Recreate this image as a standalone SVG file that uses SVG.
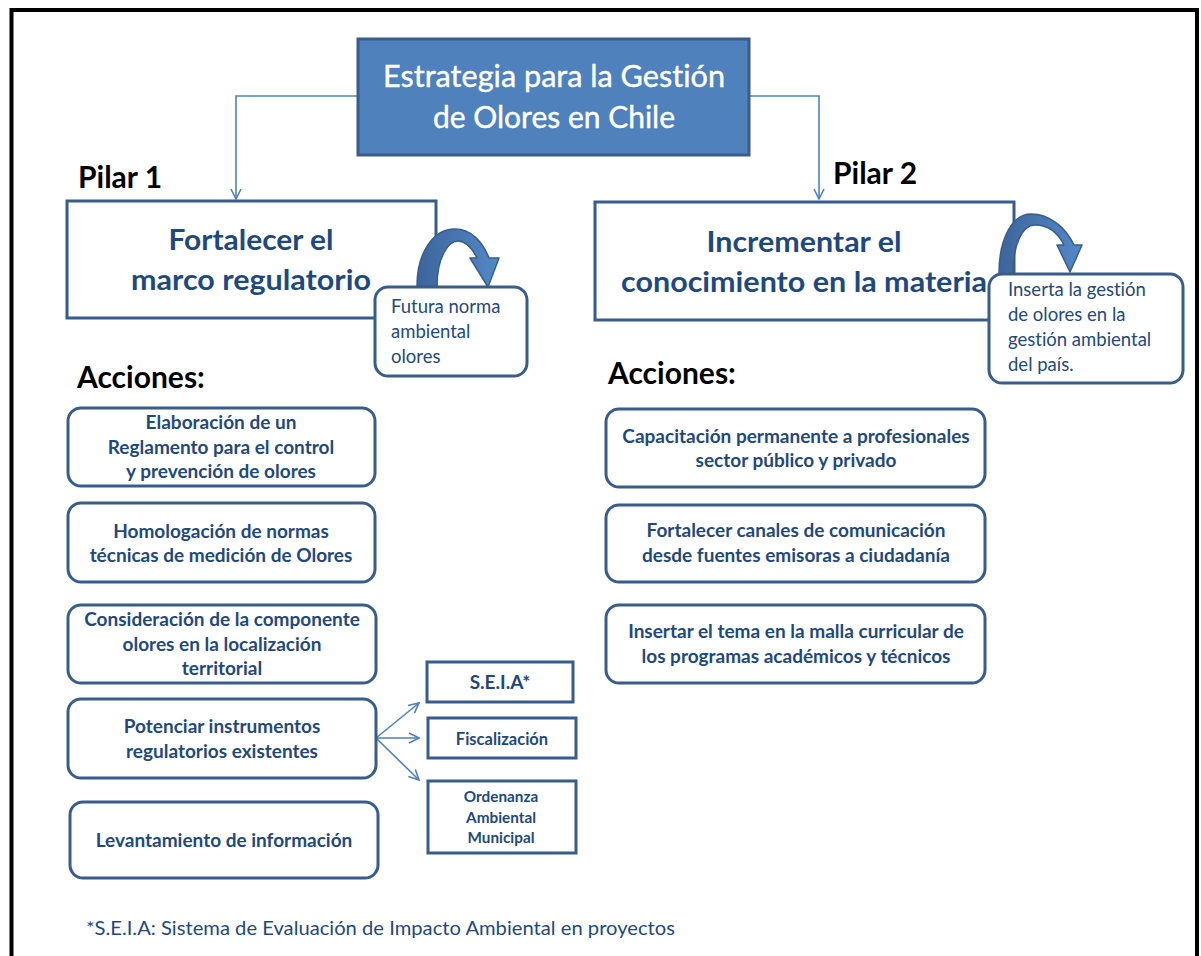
<svg xmlns="http://www.w3.org/2000/svg" width="1201" height="956" viewBox="0 0 1201 956">
<style>
.frame{fill:none;stroke:#000;stroke-width:4}
.box{fill:#fff;stroke:#385D8A;stroke-width:3}
.title{fill:#4F81BD;stroke:#385D8A;stroke-width:3}
.conn{fill:none;stroke:#4F81BD;stroke-width:1.6}
.curl{fill:url(#curlGrad);stroke:#385D8A;stroke-width:1.5;stroke-linejoin:round}
text{font-family:Lato,"Open Sans","Liberation Sans",sans-serif;font-variant-ligatures:none;font-feature-settings:"liga" 0}
.tt{fill:#fff;font-size:30px;text-anchor:middle;stroke:#fff;stroke-width:0.4}
.pil{fill:#000;font-size:30px;font-weight:bold}
.main{fill:#1F497D;font-size:29px;font-weight:bold;text-anchor:middle}
.act{fill:#1F497D;font-size:19px;font-weight:bold;text-anchor:middle}
.sm{fill:#1F497D;font-weight:bold;text-anchor:middle}
.call{fill:#1F497D;font-size:18.5px}
.foot{fill:#1F497D;font-size:20px}
</style>
<defs>
<linearGradient id="curlGrad" x1="0" y1="0" x2="1" y2="0">
<stop offset="0" stop-color="#3C659B"/>
<stop offset="1" stop-color="#5388C6"/>
</linearGradient>
<marker id="open" viewBox="0 0 12 12" refX="11" refY="6" markerWidth="12" markerHeight="12" markerUnits="userSpaceOnUse" orient="auto">
<path d="M1,1 L11,6 L1,11" fill="none" stroke="#4F81BD" stroke-width="1.6"/>
</marker>
</defs>
<rect class="frame" x="11.5" y="10" width="1185.5" height="960"/>

<g id="connectors">
<path class="conn" d="M357,96 H236 V199" marker-end="url(#open)"/>
<path class="conn" d="M750,96 H819 V199" marker-end="url(#open)"/>
<path class="conn" d="M376,738 L419,703" marker-end="url(#open)"/>
<path class="conn" d="M376,738 L419,738" marker-end="url(#open)"/>
<path class="conn" d="M376,738 L419,780" marker-end="url(#open)"/>
</g>

<g id="title">
<rect class="title" x="358" y="39" width="391" height="116"/>
<text class="tt" x="554" y="87" textLength="342" lengthAdjust="spacingAndGlyphs">Estrategia para la Gestión</text>
<text class="tt" x="554" y="128" textLength="242" lengthAdjust="spacingAndGlyphs">de Olores en Chile</text>
</g>

<g id="pilar1-label"><text class="pil" x="78" y="188">Pilar 1</text></g>
<g id="pilar2-label"><text class="pil" x="833" y="184">Pilar 2</text></g>

<g id="pilar1">
<rect class="box" x="67" y="201" width="369" height="117"/>
<text class="main" x="251" y="250" textLength="165" lengthAdjust="spacingAndGlyphs">Fortalecer el</text>
<text class="main" x="251" y="290" textLength="240" lengthAdjust="spacingAndGlyphs">marco regulatorio</text>
</g>
<g id="curl1">
<path class="curl" d="M417,286 C417,253 433,229 455,229 C472,229 483,243 489,258 L499,258 L488,287 L470,258 L477,258 C472,248 466,241 458,241 C448,241 437,258 437,286 Z"/>
</g>
<g id="callout1">
<rect class="box" x="375" y="287" width="152" height="89" rx="13"/>
<text class="call" x="391" y="313">Futura norma</text>
<text class="call" x="391" y="338">ambiental</text>
<text class="call" x="391" y="363">olores</text>
</g>

<g id="pilar2">
<rect class="box" x="595" y="202" width="419" height="118"/>
<text class="main" x="804" y="252" textLength="195" lengthAdjust="spacingAndGlyphs">Incrementar el</text>
<text class="main" x="804" y="292" textLength="366" lengthAdjust="spacingAndGlyphs">conocimiento en la materia</text>
</g>
<g id="curl2">
<path class="curl" d="M999,274 C999,237 1013,214 1031,214 C1050,214 1066,228 1074,245 L1082,245 L1070,272 L1057,245 L1064,245 C1058,233 1048,225 1035,225 C1022,225 1013,245 1013,274 Z"/>
</g>
<g id="callout2">
<rect class="box" x="989" y="274" width="194" height="109" rx="13"/>
<text class="call" x="1008" y="296">Inserta la gestión</text>
<text class="call" x="1008" y="321">de olores en la</text>
<text class="call" x="1008" y="346">gestión ambiental</text>
<text class="call" x="1008" y="371">del país.</text>
</g>

<g id="acciones1"><text class="pil" x="77" y="388">Acciones:</text></g>
<g id="acciones2"><text class="pil" x="608" y="384">Acciones:</text></g>

<g id="a1">
<rect class="box" x="68" y="408" width="307" height="78" rx="13"/>
<text class="act" x="221" y="429">Elaboración de un</text>
<text class="act" x="221" y="454">Reglamento para el control</text>
<text class="act" x="221" y="478">y prevención de olores</text>
</g>
<g id="a2">
<rect class="box" x="68" y="503" width="307" height="79" rx="13"/>
<text class="act" x="221" y="538">Homologación de normas</text>
<text class="act" x="221" y="562">técnicas de medición de Olores</text>
</g>
<g id="a3">
<rect class="box" x="68" y="605" width="308" height="78" rx="13"/>
<text class="act" x="222" y="626">Consideración de la componente</text>
<text class="act" x="222" y="651">olores en la localización</text>
<text class="act" x="222" y="675">territorial</text>
</g>
<g id="a4">
<rect class="box" x="68" y="699" width="308" height="79" rx="13"/>
<text class="act" x="222" y="733">Potenciar instrumentos</text>
<text class="act" x="222" y="758">regulatorios existentes</text>
</g>
<g id="a5">
<rect class="box" x="70" y="802" width="308" height="76" rx="13"/>
<text class="act" x="224" y="847">Levantamiento de información</text>
</g>

<g id="seia">
<rect class="box" x="427" y="662" width="146" height="40"/>
<text class="sm" x="500" y="689" font-size="19">S.E.I.A*</text>
</g>
<g id="fiscalizacion">
<rect class="box" x="428" y="718" width="148" height="40"/>
<text class="sm" x="502" y="745" font-size="16.5">Fiscalización</text>
</g>
<g id="ordenanza">
<rect class="box" x="428" y="781" width="148" height="72"/>
<text class="sm" x="501" y="802" font-size="15.3">Ordenanza</text>
<text class="sm" x="501" y="823" font-size="15.3">Ambiental</text>
<text class="sm" x="501" y="843" font-size="15.3">Municipal</text>
</g>

<g id="b1">
<rect class="box" x="606" y="409" width="379" height="78" rx="13"/>
<text class="act" x="796" y="443">Capacitación permanente a profesionales</text>
<text class="act" x="796" y="467">sector público y privado</text>
</g>
<g id="b2">
<rect class="box" x="606" y="505" width="379" height="77" rx="13"/>
<text class="act" x="796" y="537">Fortalecer canales de comunicación</text>
<text class="act" x="796" y="562">desde fuentes emisoras a ciudadanía</text>
</g>
<g id="b3">
<rect class="box" x="606" y="605" width="379" height="78" rx="13"/>
<text class="act" x="796" y="638">Insertar el tema en la malla curricular de</text>
<text class="act" x="796" y="663">los programas académicos y técnicos</text>
</g>

<g id="footnote">
<text class="foot" x="86" y="935" textLength="589" lengthAdjust="spacingAndGlyphs">*S.E.I.A: Sistema de Evaluación de Impacto Ambiental en proyectos</text>
</g>
</svg>
